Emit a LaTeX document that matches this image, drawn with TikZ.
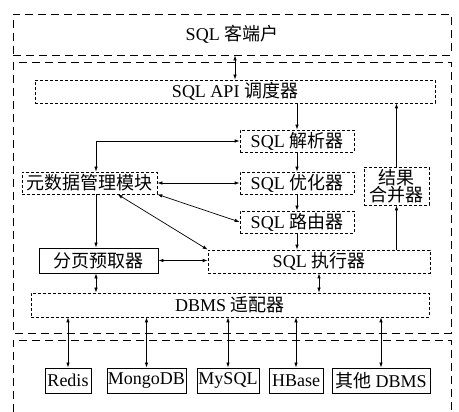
\documentclass[tikz,border=0pt]{standalone}
\usepackage{fontspec}
\setmainfont{Liberation Serif}
\newfontfamily\cjk{Noto Sans CJK SC}
\usetikzlibrary{arrows.meta,calc}
\begin{document}
\begin{tikzpicture}[x=1pt,y=-1pt,
  font=\fontsize{18}{19}\selectfont,
  frame/.style={draw,line width=0.9pt,dash pattern=on 8pt off 5pt},
  dbox/.style={draw,line width=0.7pt,dash pattern=on 3pt off 2pt,inner sep=0pt,rectangle},
  sbox/.style={draw,line width=0.9pt,inner sep=0pt,rectangle},
  conn/.style={line width=0.7pt,-{Latex[length=5pt,width=3.5pt]}},
  bconn/.style={line width=0.7pt,{Latex[length=5pt,width=3.5pt]}-{Latex[length=5pt,width=3.5pt]}}]
\useasboundingbox (0,0) rectangle (459,412);
% frames
\node[frame,inner sep=0pt,minimum width=438pt,minimum height=41pt] (client) at (232,34.5) {SQL {\cjk 客端户}};
\draw[frame] (13,62) rectangle (451,333);
\draw[frame] (13,412) -- (13,340) -- (451,340) -- (451,412);
% core modules
\node[dbox,minimum width=400pt,minimum height=23pt] (api) at (235,91.5) {SQL API {\cjk 调度器}};
\node[dbox,minimum width=114pt,minimum height=22pt] (parser) at (297,141) {SQL {\cjk 解析器}};
\node[dbox,minimum width=114pt,minimum height=22pt] (opt) at (297,183) {SQL {\cjk 优化器}};
\node[dbox,minimum width=114pt,minimum height=22pt] (router) at (297,222) {SQL {\cjk 路由器}};
\node[dbox,minimum width=135pt,minimum height=22pt] (meta) at (89.5,183) {\cjk 元数据管理模块};
\node[dbox,minimum width=65pt,minimum height=38pt,align=center,font=\fontsize{18}{17}\selectfont\cjk] (merge) at (396.5,186) {结果\\合并器};
\node[sbox,minimum width=119pt,minimum height=25pt] (pager) at (98.5,260.5) {\cjk 分页预取器};
\node[dbox,minimum width=222pt,minimum height=23pt] (exec) at (319,261.5) {SQL {\cjk 执行器}};
\node[dbox,minimum width=398pt,minimum height=24pt] (dbms) at (230,305) {DBMS {\cjk 适配器}};
% databases
\node[sbox,minimum width=46pt,minimum height=25pt] (redis) at (68,380.5) {Redis};
\node[sbox,minimum width=79pt,minimum height=25pt] (mongo) at (146.5,380.5) {MongoDB};
\node[sbox,minimum width=62pt,minimum height=25pt] (mysql) at (228,380.5) {MySQL};
\node[sbox,minimum width=54pt,minimum height=25pt] (hbase) at (296,380.5) {HBase};
\node[sbox,minimum width=98pt,minimum height=25pt] (other) at (381,380.5) {{\cjk 其他} DBMS};
\coordinate (mx) at (96,0);
% connectors
\draw[bconn] (client.south -| api.north) -- (api.north);
\draw[conn] (api.south -| parser.north) -- (parser.north);
\draw[conn] (parser) -- (opt);
\draw[conn] (opt) -- (router);
\draw[conn] (router.south) -- (router.south |- exec.north);
\draw[conn] (exec.north -| merge.south) -- (merge.south);
\draw[conn] (merge.north) -- (merge.north |- api.south);
\draw[bconn] (meta.north -| mx) |- (parser.west);
\draw[bconn] (meta.east) -- (opt.west);
\draw[bconn] (meta.south east) -- (router.west);
\draw[bconn] ($(meta.south west)+(96,0)$) -- (exec.north west);
\draw[conn] (meta.south -| mx) -- (pager.north -| mx);
\draw[bconn] (pager.east) -- (pager.east -| exec.west);
\draw[bconn] (pager.south -| mx) -- (dbms.north -| mx);
\draw[bconn] (exec.south) -- (exec.south |- dbms.north);
\draw[bconn] (dbms.south -| redis.north) -- (redis.north);
\draw[bconn] (dbms.south -| mongo.north) -- (mongo.north);
\draw[bconn] (dbms.south -| mysql.north) -- (mysql.north);
\draw[bconn] (dbms.south -| hbase.north) -- (hbase.north);
\draw[bconn] (dbms.south -| other.north) -- (other.north);
\end{tikzpicture}
\end{document}
